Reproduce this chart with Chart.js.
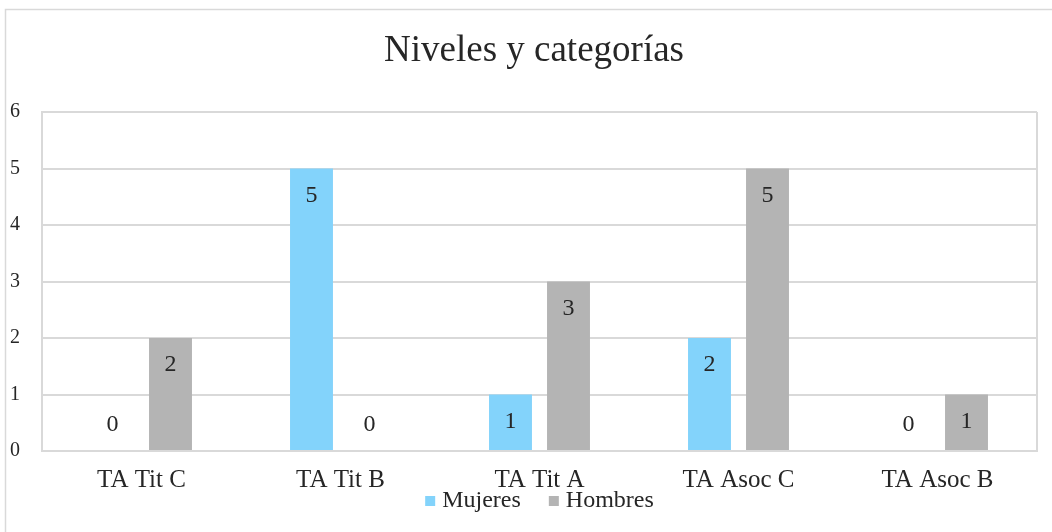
<!DOCTYPE html>
<html lang="es">
<head>
  <meta charset="UTF-8">
  <title>Niveles y categorías</title>
  <script src="https://cdn.jsdelivr.net/npm/chart.js"></script>
  <style>
    html, body {
      margin: 0;
      padding: 0;
      background: white;
    }
    #wrap {
      width: 1052px;
      height: 532px;
    }
  </style>
</head>
<body>

<div id="wrap">
  <canvas id="barChart" width="1052" height="532"></canvas>
</div>

<script>
  const titulo = "Niveles y categorías";
  const categorias = ["TA Tit C", "TA Tit B", "TA Tit A", "TA Asoc C", "TA Asoc B"];
  const mujeres = [0, 5, 1, 2, 0];
  const hombres = [2, 0, 3, 5, 1];
  const ticksY = [0, 1, 2, 3, 4, 5, 6];

  const fuente = "'Liberation Serif', 'Times New Roman', serif";
  const textoColor = "#262626";
  const rejilla = "#d9d9d9";

  // borde exterior, borde derecho del area, titulo y leyenda
  const marco = {
    id: "marco",
    beforeDraw(chart) {
      const c = chart.ctx;
      c.save();
      c.strokeStyle = rejilla;
      c.lineWidth = 1.5;
      c.strokeRect(5.5, 9.5, 1200, 700);
      c.restore();
    },
    afterDatasetsDraw(chart) {
      const c = chart.ctx;
      const a = chart.chartArea;
      c.save();
      c.strokeStyle = rejilla;
      c.lineWidth = 2;
      c.beginPath();
      c.moveTo(a.right, a.top);
      c.lineTo(a.right, a.bottom);
      c.stroke();

      // titulo
      c.fillStyle = textoColor;
      c.font = "37px " + fuente;
      c.textAlign = "center";
      c.textBaseline = "middle";
      c.fillText(titulo, 534, 51);

      // leyenda
      c.font = "24px " + fuente;
      c.textAlign = "left";
      const caja = 10, hueco = 7, sep = 28;
      const anchos = chart.data.datasets.map(ds => c.measureText(ds.label).width);
      let total = 0;
      anchos.forEach((w, i) => { total += caja + hueco + w + (i > 0 ? sep : 0); });
      let x = (a.left + a.right) / 2 - total / 2;
      const yc = 501;
      chart.data.datasets.forEach((ds, i) => {
        c.fillStyle = ds.backgroundColor;
        c.fillRect(x, yc - 5, caja, caja);
        c.fillStyle = textoColor;
        c.fillText(ds.label, x + caja + hueco, yc);
        x += caja + hueco + anchos[i] + sep;
      });
      c.restore();
    }
  };

  // etiquetas de datos dentro del extremo de la barra
  const etiquetas = {
    id: "etiquetas",
    afterDatasetsDraw(chart) {
      const c = chart.ctx;
      c.save();
      c.font = "24px " + fuente;
      c.fillStyle = textoColor;
      c.textAlign = "center";
      c.textBaseline = "middle";
      chart.data.datasets.forEach((ds, i) => {
        chart.getDatasetMeta(i).data.forEach((bar, j) => {
          const v = ds.data[j];
          const y = v > 0 ? bar.y + 27 : bar.base - 26;
          c.fillText(String(v), bar.x, y);
        });
      });
      c.restore();
    }
  };

  const ctx = document.getElementById("barChart").getContext("2d");
  new Chart(ctx, {
    type: "bar",
    data: {
      labels: categorias,
      datasets: [
        {
          label: "Mujeres",
          data: mujeres,
          backgroundColor: "#83d3fb",
          categoryPercentage: 0.583,
          barPercentage: 0.74
        },
        {
          label: "Hombres",
          data: hombres,
          backgroundColor: "#b4b4b4",
          categoryPercentage: 0.583,
          barPercentage: 0.74
        }
      ]
    },
    options: {
      responsive: false,
      animation: false,
      layout: {
        padding: { left: -12, right: 15, top: 112, bottom: 23 }
      },
      plugins: {
        title: { display: false },
        legend: { display: false },
        tooltip: { enabled: false }
      },
      scales: {
        x: {
          grid: { display: false, drawTicks: false },
          border: { display: true, color: rejilla, width: 2 },
          ticks: {
            color: textoColor,
            font: { family: fuente, size: 25, lineHeight: 1.2 },
            padding: 14
          }
        },
        y: {
          min: 0,
          max: 6,
          afterBuildTicks(axis) {
            axis.ticks = ticksY.map(v => ({ value: v }));
          },
          grid: { color: rejilla, lineWidth: 2, drawTicks: false },
          border: { display: true, color: rejilla, width: 2 },
          ticks: {
            color: textoColor,
            font: { family: fuente, size: 20 },
            padding: 22
          }
        }
      }
    },
    plugins: [marco, etiquetas]
  });
</script>

</body>
</html>
